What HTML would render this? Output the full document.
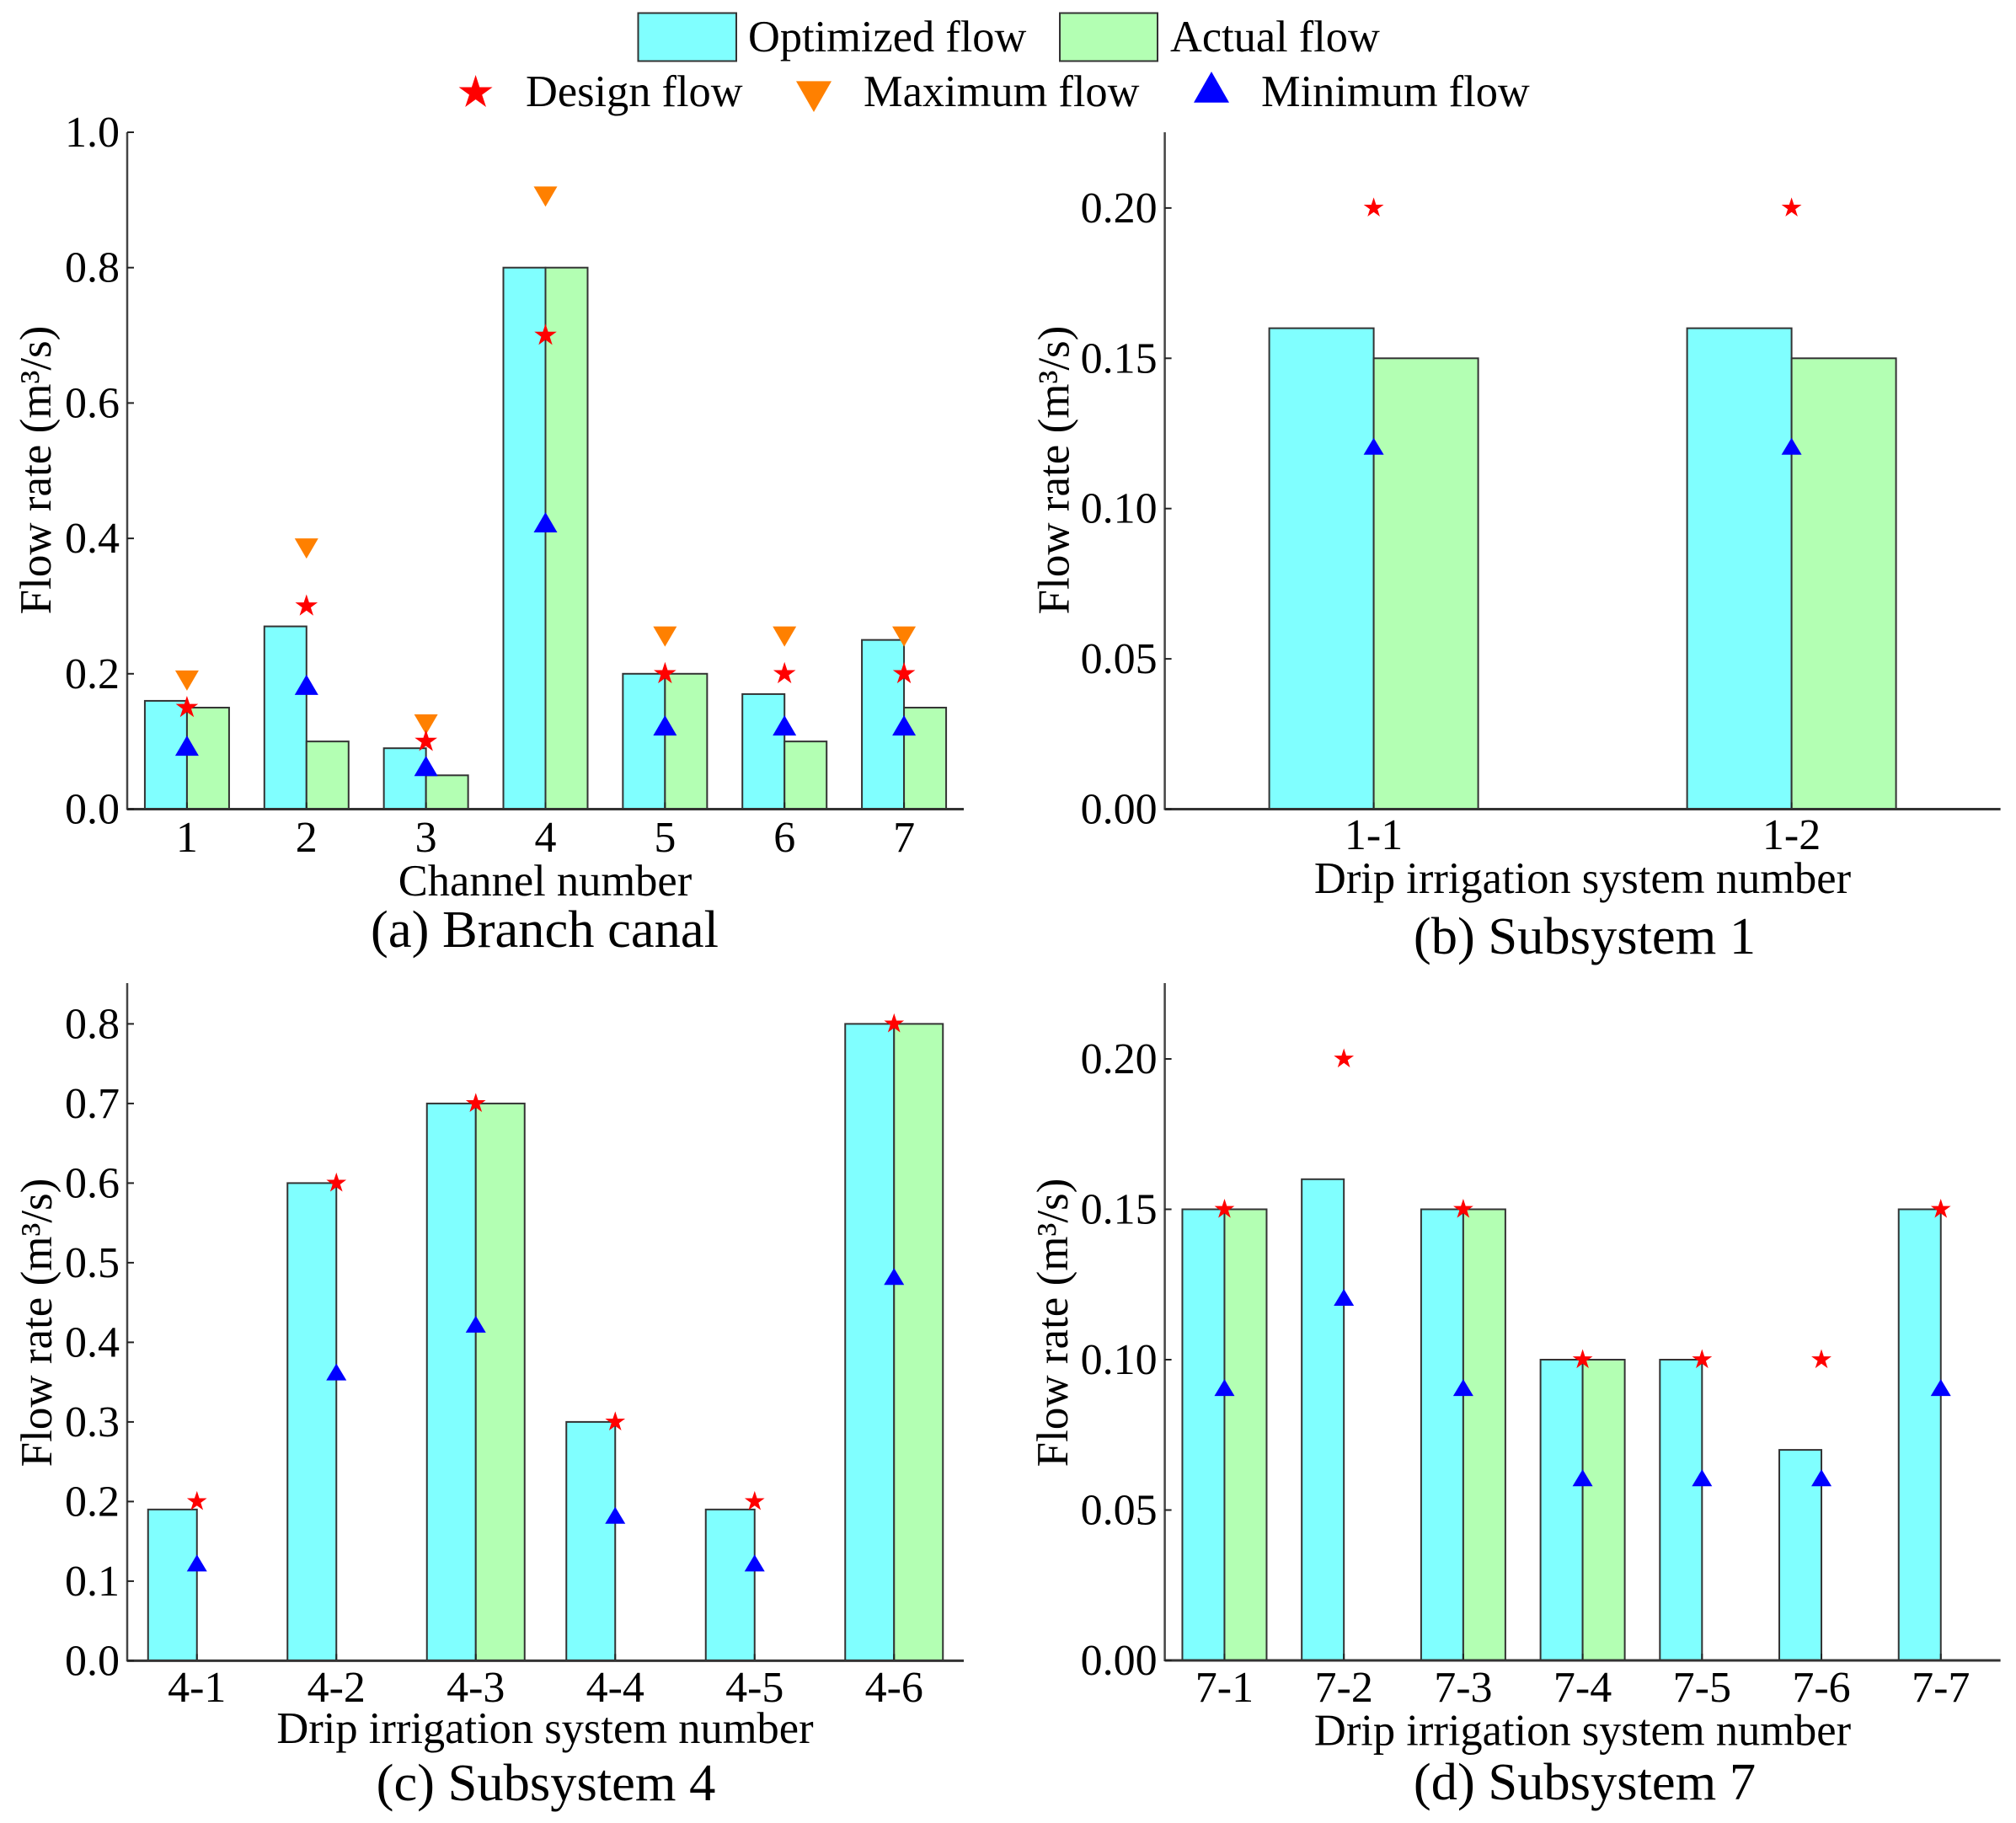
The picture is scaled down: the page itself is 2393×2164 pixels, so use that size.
<!DOCTYPE html>
<html lang="en">
<head>
<meta charset="utf-8">
<title>Flow rate charts</title>
<style>
html,body{margin:0;padding:0;background:#fff;}
svg{display:block;}
text{font-family:"Liberation Serif",serif;fill:#000;}
</style>
</head>
<body>
<svg id="chart" xmlns="http://www.w3.org/2000/svg" width="2393" height="2164" viewBox="0 0 2393 2164">
  <rect x="0" y="0" width="2393" height="2164" fill="#ffffff"/>
  <g>
    <rect x="757.5" y="15.5" width="116.5" height="57" fill="#80ffff" stroke="#333" stroke-width="2"/>
    <text x="888" y="61" font-size="52.4">Optimized flow</text>
    <rect x="1258" y="15.5" width="116" height="57" fill="#b3ffb3" stroke="#333" stroke-width="2"/>
    <text x="1389" y="61" font-size="52.4">Actual flow</text>
    <polygon points="564.6,89 569.3,103.5 584.6,103.5 572.2,112.5 577,127 564.6,118 552.2,127 557,112.5 544.6,103.5 559.9,103.5" fill="#ff0000"/>
    <text x="624" y="126" font-size="52.4">Design flow</text>
    <polygon points="945,96.4 987,96.4 966,133" fill="#ff8000"/>
    <text x="1025" y="126" font-size="52.4">Maximum flow</text>
    <polygon points="1417,121.7 1459,121.7 1438,85" fill="#0000ff"/>
    <text x="1497" y="126" font-size="52.4">Minimum flow</text>
  </g>
</svg>
<script>
// Panel (a) Branch canal
const categoriesA = ['1', '2', '3', '4', '5', '6', '7'];
const optimizedA = [0.16, 0.27, 0.09, 0.80, 0.20, 0.17, 0.25];
const actualA = [0.15, 0.10, 0.05, 0.80, 0.20, 0.10, 0.15];
const designA = [0.15, 0.30, 0.10, 0.70, 0.20, 0.20, 0.20];
const maximumA = [0.195, 0.39, 0.13, 0.91, 0.26, 0.26, 0.26];
const minimumA = [0.09, 0.18, 0.06, 0.42, 0.12, 0.12, 0.12];
const ticksA = [0.0, 0.2, 0.4, 0.6, 0.8, 1.0];

// Panel (b) Subsystem 1
const categoriesB = ['1-1', '1-2'];
const optimizedB = [0.16, 0.16];
const actualB = [0.15, 0.15];
const designB = [0.20, 0.20];
const minimumB = [0.12, 0.12];
const ticksB = [0.00, 0.05, 0.10, 0.15, 0.20];

// Panel (c) Subsystem 4
const categoriesC = ['4-1', '4-2', '4-3', '4-4', '4-5', '4-6'];
const optimizedC = [0.19, 0.60, 0.70, 0.30, 0.19, 0.80];
const actualC = [null, null, 0.70, null, null, 0.80];
const designC = [0.20, 0.60, 0.70, 0.30, 0.20, 0.80];
const minimumC = [0.12, 0.36, 0.42, 0.18, 0.12, 0.48];
const ticksC = [0.0, 0.1, 0.2, 0.3, 0.4, 0.5, 0.6, 0.7, 0.8];

// Panel (d) Subsystem 7
const categoriesD = ['7-1', '7-2', '7-3', '7-4', '7-5', '7-6', '7-7'];
const optimizedD = [0.15, 0.16, 0.15, 0.10, 0.10, 0.07, 0.15];
const actualD = [0.15, null, 0.15, 0.10, null, null, null];
const designD = [0.15, 0.20, 0.15, 0.10, 0.10, 0.10, 0.15];
const minimumD = [0.09, 0.12, 0.09, 0.06, 0.06, 0.06, 0.09];
const ticksD = [0.00, 0.05, 0.10, 0.15, 0.20];

const svg = document.getElementById('chart');
const NS = 'http://www.w3.org/2000/svg';

function make(parent, tag, attrs, content) {
  const node = document.createElementNS(NS, tag);
  for (const key in attrs) node.setAttribute(key, attrs[key]);
  if (content !== undefined) node.textContent = content;
  parent.appendChild(node);
  return node;
}

function starPoints(cx, cy, R) {
  const pts = [];
  for (let i = 0; i < 10; i++) {
    const rad = i % 2 === 0 ? R : R * 0.382;
    const ang = -Math.PI / 2 + i * Math.PI / 5;
    pts.push((cx + rad * Math.cos(ang)).toFixed(1) + ',' + (cy + rad * Math.sin(ang)).toFixed(1));
  }
  return pts.join(' ');
}

function drawPanel(id, frame, categories, ticks, decimals, series, texts) {
  const g = make(svg, 'g', {});
  
  

  const step = (frame.x1 - frame.x0) / categories.length;
  const xCenter = i => frame.x0 + step * (i + 0.5);
  const yScale = v => frame.yZero - v * frame.yUnit;
  const m = frame.marker;

  categories.forEach((cat, i) => {
    const cx = xCenter(i);
    const opt = series.optimized[i];
    if (opt !== null) {
      const bar = make(g, 'rect', { x: cx - frame.barWidth, y: yScale(opt), width: frame.barWidth, height: yScale(0) - yScale(opt), fill: '#80ffff', stroke: '#333', 'stroke-width': 2 });
      
      
    }
    const act = series.actual[i];
    if (act !== null) {
      const bar = make(g, 'rect', { x: cx, y: yScale(act), width: frame.barWidth, height: yScale(0) - yScale(act), fill: '#b3ffb3', stroke: '#333', 'stroke-width': 2 });
      
      
    }
    const tick = make(g, 'line', { x1: cx, x2: cx, y1: yScale(0), y2: yScale(0) - 8, stroke: '#222', 'stroke-width': 2 });
    
    
    const label = make(g, 'text', { x: cx, y: texts.tickBaseline, 'font-size': 52, 'text-anchor': 'middle' }, cat);
    
    
  });

  categories.forEach((cat, i) => {
    const cx = xCenter(i);
    if (series.maximum) {
      const y = yScale(series.maximum[i]);
      const tri = make(g, 'polygon', { points: (cx - 14) + ',' + (y - 8) + ' ' + (cx + 14) + ',' + (y - 8) + ' ' + cx + ',' + (y + 16), fill: '#ff8000' });
      
      
    }
    const yMin = yScale(series.minimum[i]);
    const up = make(g, 'polygon', { points: (cx - m.tri) + ',' + (yMin + m.triDown) + ' ' + (cx + m.tri) + ',' + (yMin + m.triDown) + ' ' + cx + ',' + (yMin - m.triUp), fill: '#0000ff' });
    
    
    const star = make(g, 'polygon', { points: starPoints(cx, yScale(series.design[i]), m.star), fill: '#ff0000' });
    
    
  });

  const yAxis = make(g, 'line', { x1: frame.x0, x2: frame.x0, y1: frame.yTop, y2: yScale(0) + 1, stroke: '#444', 'stroke-width': 2.5 });
  
  
  const xAxis = make(g, 'line', { x1: frame.x0, x2: frame.x1, y1: yScale(0), y2: yScale(0), stroke: '#333', 'stroke-width': 3 });
  
  

  ticks.forEach(t => {
    const y = yScale(t);
    const tick = make(g, 'line', { x1: frame.x0, x2: frame.x0 + 8, y1: y, y2: y, stroke: '#222', 'stroke-width': 2 });
    
    
    const label = make(g, 'text', { x: frame.x0 - 9, y: y + 17, 'font-size': 52, 'text-anchor': 'end' }, t.toFixed(decimals));
    
    
  });

  const yTitle = make(g, 'text', { x: 0, y: 0, 'font-size': 53, 'text-anchor': 'middle', transform: 'translate(' + texts.yTitleX + ' ' + texts.yTitleY + ') rotate(-90)' }, 'Flow rate (m³/s)');
  
  
  const xTitle = make(g, 'text', { x: texts.centerX, y: texts.xTitleBaseline, 'font-size': 52.5, 'text-anchor': 'middle' }, texts.xTitle);
  
  
  const caption = make(g, 'text', { x: texts.captionX, y: texts.captionBaseline, 'font-size': 62.5, 'text-anchor': 'middle' }, texts.caption);
  
  
}

drawPanel('a',
  { x0: 151, x1: 1144, yZero: 960.5, yUnit: 803.5, yTop: 157, barWidth: 50, marker: { star: 14, tri: 14, triUp: 15, triDown: 9 } },
  categoriesA, ticksA, 1,
  { optimized: optimizedA, actual: actualA, design: designA, maximum: maximumA, minimum: minimumA },
  { tickBaseline: 1011, yTitleX: 60, yTitleY: 558, centerX: 647, xTitle: 'Channel number', xTitleBaseline: 1063, captionX: 646.5, caption: '(a) Branch canal', captionBaseline: 1124 });

drawPanel('b',
  { x0: 1382.6, x1: 2374.6, yZero: 960.5, yUnit: 3568, yTop: 157, barWidth: 124, marker: { star: 12.5, tri: 12, triUp: 12.6, triDown: 7.4 } },
  categoriesB, ticksB, 2,
  { optimized: optimizedB, actual: actualB, design: designB, minimum: minimumB },
  { tickBaseline: 1008, yTitleX: 1268.5, yTitleY: 558, centerX: 1878.5, xTitle: 'Drip irrigation system number', xTitleBaseline: 1060, captionX: 1881, caption: '(b) Subsystem 1', captionBaseline: 1132 });

drawPanel('c',
  { x0: 151, x1: 1144, yZero: 1971.4, yUnit: 945, yTop: 1167, barWidth: 58, marker: { star: 12.5, tri: 12, triUp: 12.6, triDown: 7.4 } },
  categoriesC, ticksC, 1,
  { optimized: optimizedC, actual: actualC, design: designC, minimum: minimumC },
  { tickBaseline: 2020, yTitleX: 61, yTitleY: 1570, centerX: 647, xTitle: 'Drip irrigation system number', xTitleBaseline: 2069, captionX: 648, caption: '(c) Subsystem 4', captionBaseline: 2137 });

drawPanel('d',
  { x0: 1382.6, x1: 2374.6, yZero: 1971, yUnit: 3570, yTop: 1167, barWidth: 50, marker: { star: 12.5, tri: 12, triUp: 12.6, triDown: 7.4 } },
  categoriesD, ticksD, 2,
  { optimized: optimizedD, actual: actualD, design: designD, minimum: minimumD },
  { tickBaseline: 2020, yTitleX: 1267, yTitleY: 1570, centerX: 1878.5, xTitle: 'Drip irrigation system number', xTitleBaseline: 2071.5, captionX: 1881, caption: '(d) Subsystem 7', captionBaseline: 2136 });
</script>
</body>
</html>
